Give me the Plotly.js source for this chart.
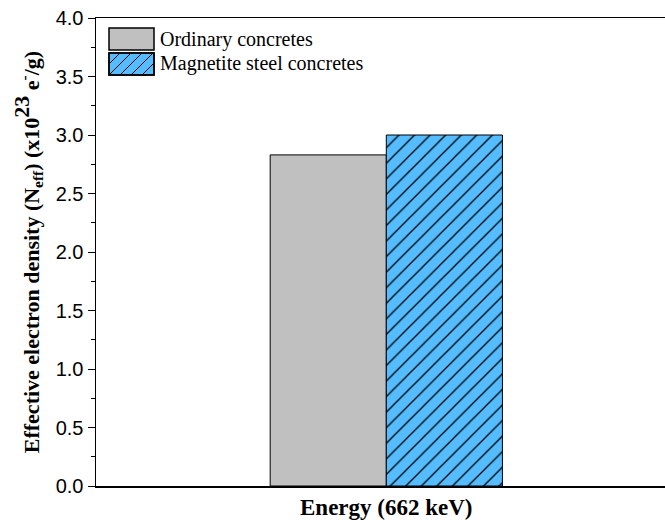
<!DOCTYPE html>
<html>
<head>
<meta charset="utf-8">
<script src="https://cdn.plot.ly/plotly-3.0.1.min.js"></script>
<style>body{margin:0;padding:0;background:#fff;}#chart{width:665px;height:528px;}</style>
</head>
<body>
<div id="chart"></div>
<script>
const categories = ["Energy (662 keV)"];
const seriesNames = ["Ordinary concretes", "Magnetite steel concretes"];
const ordinaryValues = [2.83];
const magnetiteValues = [3.0];
const yTickValues = [0, 0.5, 1.0, 1.5, 2.0, 2.5, 3.0, 3.5, 4.0];
const yTickLabels = ["0.0", "0.5", "1.0", "1.5", "2.0", "2.5", "3.0", "3.5", "4.0"];

const GRAY = "#c0c0c0", BLUE = "#55bdff";
const SERIF = "Liberation Serif, Times New Roman, serif";

const traces = [
  {
    type: "bar", name: seriesNames[0], x: categories, y: ordinaryValues,
    marker: {color: GRAY, line: {color: "#000", width: 1}}
  },
  {
    type: "bar", name: seriesNames[1], x: categories, y: magnetiteValues,
    marker: {color: BLUE, line: {color: "#000", width: 1},
      pattern: {shape: "/", fgcolor: "#000", bgcolor: BLUE, size: 11, solidity: 0.12}}
  }
];

// plot-area geometry (pixels) used to place the custom legend
const W = 665, H = 528, ML = 96, MR = 0, MT = 18, MB = 42;
const PW = W - ML - MR, PH = H - MT - MB;
const px = v => (v - ML) / PW;
const py = v => (H - MB - v) / PH;

const shapes = [];
const annotations = [];
function legendBox(x0, y0, x1, y1, fill, hatch) {
  shapes.push({type: "rect", xref: "paper", yref: "paper",
    x0: px(x0), x1: px(x1), y0: py(y1), y1: py(y0),
    fillcolor: fill, line: {color: "#000", width: 1.5}, layer: "above"});
  if (hatch) {
    const h = y1 - y0;
    for (let s = x0 - h; s < x1; s += 11) {
      // line from (s, y1) to (s + h, y0), clipped to the box
      let ax = s, ay = y1, bx = s + h, by = y0;
      if (ax < x0) { ay = y1 - (x0 - ax); ax = x0; }
      if (bx > x1) { by = y0 + (bx - x1); bx = x1; }
      if (bx - ax < 1) continue;
      shapes.push({type: "line", xref: "paper", yref: "paper",
        x0: px(ax), y0: py(ay), x1: px(bx), y1: py(by),
        line: {color: "#000", width: 1}, layer: "above"});
    }
    shapes.push({type: "rect", xref: "paper", yref: "paper",
      x0: px(x0), x1: px(x1), y0: py(y1), y1: py(y0),
      fillcolor: "rgba(0,0,0,0)", line: {color: "#000", width: 1.5}, layer: "above"});
  }
}
legendBox(109, 28, 154, 50, GRAY, false);
legendBox(109, 53, 154, 75, BLUE, true);
[[seriesNames[0], 39.5], [seriesNames[1], 64]].forEach(([t, yc]) => {
  annotations.push({xref: "paper", yref: "paper", x: px(158), y: py(yc),
    xanchor: "left", yanchor: "middle", text: t, showarrow: false,
    font: {family: SERIF, size: 20, color: "#000"}});
});
annotations.push({
  xref: "x", yref: "paper", x: 0, y: 0, yshift: -21, xanchor: "center", yanchor: "middle",
  text: "<b>" + categories[0] + "</b>", showarrow: false,
  font: {family: SERIF, size: 23, color: "#000"}
});

const layout = {
  width: W, height: H,
  margin: {l: ML, r: MR, t: MT, b: MB},
  paper_bgcolor: "#fff", plot_bgcolor: "#fff",
  barmode: "group", bargap: 0.2, bargroupgap: 0,
  showlegend: false,
  xaxis: {
    type: "category", range: [-1.0, 0.96], showticklabels: false, ticks: "",
    showline: true, linecolor: "#000", linewidth: 1.5, mirror: true,
    showgrid: false, zeroline: false, fixedrange: true
  },
  yaxis: {
    range: [0, 4.0], tickvals: yTickValues, ticktext: yTickLabels,
    ticks: "outside", ticklen: 7, tickwidth: 1, tickcolor: "#000",
    minor: {dtick: 0.25, ticks: "outside", ticklen: 4, tickwidth: 1, tickcolor: "#000"},
    showline: true, linecolor: "#000", linewidth: 1.5,
    showgrid: false, zeroline: false,
    tickfont: {family: "Liberation Sans, Arial, sans-serif", size: 20, color: "#000"},
    title: {text: "<b>Effective electron density (N<sub>eff</sub>) (x10<sup><span style=\"font-size:22px\">23</span></sup> e<sup>-</sup>/g)</b>",
      font: {family: SERIF, size: 22, color: "#000"}, standoff: 10}
  },
  shapes: shapes,
  annotations: annotations
};

Plotly.newPlot("chart", traces, layout, {displayModeBar: false, staticPlot: true});
</script>
</body>
</html>
